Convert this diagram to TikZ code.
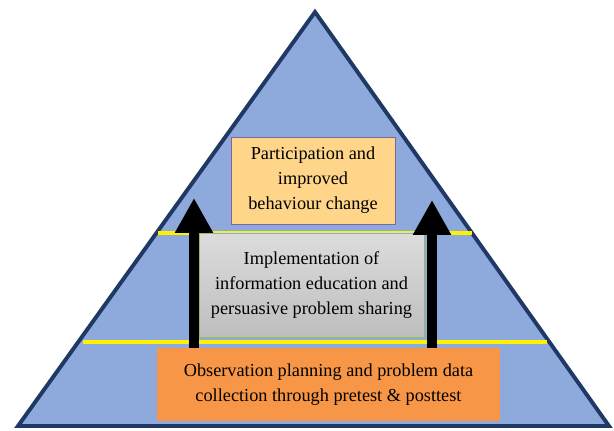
\documentclass[tikz,border=0pt]{standalone}
\usepackage{fontspec}
\setmainfont{Liberation Serif}
\usetikzlibrary{arrows.meta}
\definecolor{pyrfill}{HTML}{8EA9DB}
\definecolor{pyrline}{HTML}{203864}
\definecolor{topfill}{HTML}{FFD58A}
\definecolor{topline}{HTML}{8064A2}
\definecolor{midtop}{HTML}{DCDCDC}
\definecolor{midbot}{HTML}{BEBEBE}
\definecolor{midline}{HTML}{9BBB59}
\definecolor{botfill}{HTML}{F79646}
\begin{document}
\begin{tikzpicture}[x=0.025cm, y=-0.025cm,
		box/.style={inner sep=0pt, align=center, font=\fontsize{13}{17.7}\selectfont},
		level/.style={yellow, line width=2.2pt},
		uparrow/.style={line width=7.8pt, -{Triangle[width=25.5pt, length=24.8pt]}}]
		\useasboundingbox (0,0) rectangle (614,430);
		% pyramid
		\draw[fill=pyrfill, draw=pyrline, line width=2.8pt] (315,12) -- (609,426) -- (18,426) -- cycle;
		% level lines
		\draw[level] (158,233) -- (472,233);
		\draw[level] (83,342) -- (547,342);
		% middle step
		\node[box, top color=midtop, bottom color=midbot, draw=midline, line width=0.4pt, minimum width=5.625cm, minimum height=2.6cm] (mid) at (311.5,285) {Implementation of\\information education and\\persuasive problem sharing};
		% bottom step
		\node[box, fill=botfill, minimum width=8.575cm, minimum height=1.825cm] (bot) at (328.5,384.5) {Observation planning and problem data\\collection through pretest \& posttest};
		% top step
		\node[box, fill=topfill, draw=topline, line width=0.6pt, minimum width=4.1cm, minimum height=2.175cm] (top) at (313,180.5) {Participation and\\improved\\behaviour change};
		% arrows
		\coordinate (ltip) at (194,198);
		\coordinate (rtip) at (432,200);
		\draw[uparrow] (bot.north -| ltip) -- (ltip);
		\draw[uparrow] (bot.north -| rtip) -- (rtip);
	\end{tikzpicture}
\end{document}
